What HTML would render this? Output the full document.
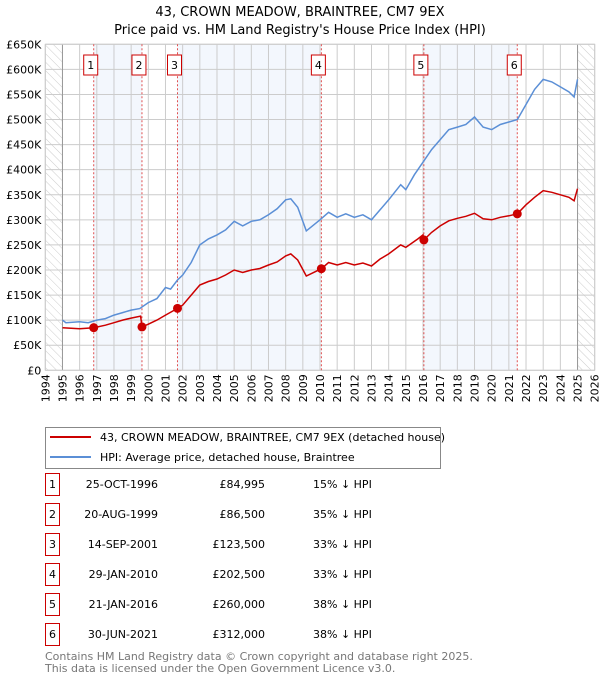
<!DOCTYPE html>
<html><head><meta charset="utf-8"><style>
body{margin:0;background:#fff;font-family:"DejaVu Sans","Liberation Sans",sans-serif;}
svg text{font-family:"DejaVu Sans","Liberation Sans",sans-serif;}
</style></head><body>
<svg id="c" width="600" height="680" xmlns="http://www.w3.org/2000/svg">
<defs><pattern id="hatch" width="6" height="6" patternUnits="userSpaceOnUse" patternTransform="rotate(-45)"><line x1="0" y1="0" x2="0" y2="6" stroke="#ccc" stroke-width="1"/></pattern></defs>
<text x="300" y="16" text-anchor="middle" font-size="13">43, CROWN MEADOW, BRAINTREE, CM7 9EX</text>
<text x="300" y="34" text-anchor="middle" font-size="13">Price paid vs. HM Land Registry's House Price Index (HPI)</text>
<g id="plot"></g>
<g>
<rect x="45.5" y="427.5" width="395" height="41" fill="#fff" stroke="#888"/>
<line x1="50" y1="437" x2="91" y2="437" stroke="#cc0000" stroke-width="2"/>
<text x="100" y="441" font-size="11">43, CROWN MEADOW, BRAINTREE, CM7 9EX (detached house)</text>
<line x1="50" y1="457" x2="91" y2="457" stroke="#5b8fd6" stroke-width="2"/>
<text x="100" y="461" font-size="11">HPI: Average price, detached house, Braintree</text>
</g>
<g id="table" font-size="11"></g>
<text x="45" y="660" font-size="11" fill="#777">Contains HM Land Registry data © Crown copyright and database right 2025.</text>
<text x="45" y="672" font-size="11" fill="#777">This data is licensed under the Open Government Licence v3.0.</text>
</svg>
<script>
const hpiYears=[1995,1995.2,1996,1996.5,1997,1997.5,1998,1998.5,1999,1999.5,2000,2000.5,2001,2001.3,2001.7,2002,2002.5,2003,2003.5,2004,2004.5,2005,2005.5,2006,2006.5,2007,2007.5,2008,2008.3,2008.7,2009.2,2010,2010.5,2011,2011.5,2012,2012.5,2013,2013.5,2014,2014.7,2015,2015.5,2016,2016.5,2017,2017.5,2018,2018.5,2019,2019.5,2020,2020.5,2021,2021.5,2022,2022.5,2023,2023.5,2024,2024.5,2024.8,2025];
const hpiValues=[100,95,97,95,100,103,110,115,120,123,135,143,165,162,180,190,215,250,262,270,280,297,288,297,300,310,322,340,342,325,278,300,315,305,312,305,310,300,320,340,370,360,390,415,440,460,480,485,490,505,485,480,490,495,500,530,560,580,575,565,555,545,580];
const propYears=[1995,1996,1996.82,1997.5,1998,1998.5,1999,1999.55,1999.63,2000,2000.5,2001,2001.7,2002,2002.5,2003,2003.5,2004,2004.5,2005,2005.5,2006,2006.5,2007,2007.5,2008,2008.3,2008.7,2009.2,2010.08,2010.5,2011,2011.5,2012,2012.5,2013,2013.5,2014,2014.7,2015,2015.7,2016.0,2016.05,2016.5,2017,2017.5,2018,2018.5,2019,2019.5,2020,2020.5,2021,2021.49,2022,2022.5,2023,2023.5,2024,2024.5,2024.8,2025];
const propValues=[85,83,85,90,95,100,104,108,86.5,92,100,110,123.5,130,150,170,177,182,190,200,195,200,203,210,216,228,232,220,188,202.5,215,210,215,210,214,208,222,232,250,245,262,270,260,275,288,298,303,307,313,302,300,305,308,312,330,345,358,355,350,345,338,362];
const saleYears=[1996.82,1999.63,2001.70,2010.08,2016.05,2021.49];
const saleValues=[84.995,86.5,123.5,202.5,260,312];
const saleDates=["25-OCT-1996","20-AUG-1999","14-SEP-2001","29-JAN-2010","21-JAN-2016","30-JUN-2021"];
const salePrices=["£84,995","£86,500","£123,500","£202,500","£260,000","£312,000"];
const saleHpi=["15% ↓ HPI","35% ↓ HPI","33% ↓ HPI","33% ↓ HPI","38% ↓ HPI","38% ↓ HPI"];
const yTicks=[0,50,100,150,200,250,300,350,400,450,500,550,600,650];
const yTickLabels=["£0","£50K","£100K","£150K","£200K","£250K","£300K","£350K","£400K","£450K","£500K","£550K","£600K","£650K"];
const xTicks=[1994,1995,1996,1997,1998,1999,2000,2001,2002,2003,2004,2005,2006,2007,2008,2009,2010,2011,2012,2013,2014,2015,2016,2017,2018,2019,2020,2021,2022,2023,2024,2025,2026];
const X0=45.3,X1=594.7,Y0=370.3,Y1=44.3;
const sx=y=>X0+(y-1994)/(2026-1994)*(X1-X0);
const sy=v=>Y0-v/650*(Y0-Y1);
const NS="http://www.w3.org/2000/svg";
const plot=document.getElementById('plot');
function mk(tag,attrs,parent){const e=document.createElementNS(NS,tag);for(const k in attrs)e.setAttribute(k,attrs[k]);(parent||plot).appendChild(e);return e;}
for(let i=0;i<6;i+=2){const r=mk('rect',{x:sx(saleYears[i]),y:Y1,width:sx(saleYears[i+1])-sx(saleYears[i]),height:Y0-Y1,fill:'#eef3fc',opacity:0.7});

}
let h1=mk('rect',{x:X0,y:Y1,width:sx(1995)-X0,height:Y0-Y1,fill:'url(#hatch)'});


let h2=mk('rect',{x:sx(2025),y:Y1,width:X1-sx(2025),height:Y0-Y1,fill:'url(#hatch)'});


yTicks.forEach((v,i)=>{mk('line',{x1:X0,x2:X1,y1:sy(v),y2:sy(v),stroke:'#ccc','stroke-width':1});
const t=mk('text',{x:X0-4,y:sy(v)+4,'text-anchor':'end','font-size':11});t.textContent=yTickLabels[i];

});
xTicks.forEach(y=>{mk('line',{x1:sx(y),x2:sx(y),y1:Y1,y2:Y0,stroke:'#ccc','stroke-width':1});
const tx=sx(y)+4, ty=Y0+4;
const t=mk('text',{x:tx,y:ty,'text-anchor':'end','font-size':11,transform:`rotate(-90 ${tx} ${ty})`});
t.style.transformBox='view-box';
t.style.transformOrigin=tx+'px '+ty+'px';
t.style.transform='rotate(-90deg)';
t.textContent=y;

});
mk('line',{x1:sx(1995),x2:sx(1995),y1:Y1,y2:Y0,stroke:'#999','stroke-width':1});
mk('line',{x1:sx(2025),x2:sx(2025),y1:Y1,y2:Y0,stroke:'#999','stroke-width':1});
mk('rect',{x:X0,y:Y1,width:X1-X0,height:Y0-Y1,fill:'none',stroke:'#ccc'});
saleYears.forEach((y,i)=>{const l=mk('line',{x1:sx(y),x2:sx(y),y1:Y1,y2:Y0,stroke:'#e05050','stroke-width':1,'stroke-dasharray':'2,2'});


const g=mk('g',{});


mk('rect',{x:sx(y)-10,y:55,width:14,height:20,fill:'#fff',stroke:'#cc0000'},g);
const t=mk('text',{x:sx(y)-3,y:69,'text-anchor':'middle','font-size':11},g);t.textContent=i+1;});
function path(xs,vs){return xs.map((x,i)=>(i?'L':'M')+sx(x).toFixed(1)+','+sy(vs[i]).toFixed(1)).join('');}
const hp=mk('path',{d:path(hpiYears,hpiValues),fill:'none',stroke:'#5b8fd6','stroke-width':1.5});


const pp=mk('path',{d:path(propYears,propValues),fill:'none',stroke:'#cc0000','stroke-width':1.5});


saleYears.forEach((y,i)=>{const c=mk('circle',{cx:sx(y),cy:sy(saleValues[i]),r:4.5,fill:'#cc0000'});

});
const tb=document.getElementById('table');
saleDates.forEach((d,i)=>{const y=483+i*30;
const g=mk('g',{},tb);


mk('rect',{x:45.5,y:y-9.5,width:14,height:22,fill:'#fff',stroke:'#cc0000'},g);
let t=mk('text',{x:52.5,y:y+5,'text-anchor':'middle'},g);t.textContent=i+1;
t=mk('text',{x:158,y:y+5,'text-anchor':'end'},g);t.textContent=d;
t=mk('text',{x:265,y:y+5,'text-anchor':'end'},g);t.textContent=salePrices[i];
t=mk('text',{x:313,y:y+5},g);t.textContent=saleHpi[i];});
</script>
</body></html>
